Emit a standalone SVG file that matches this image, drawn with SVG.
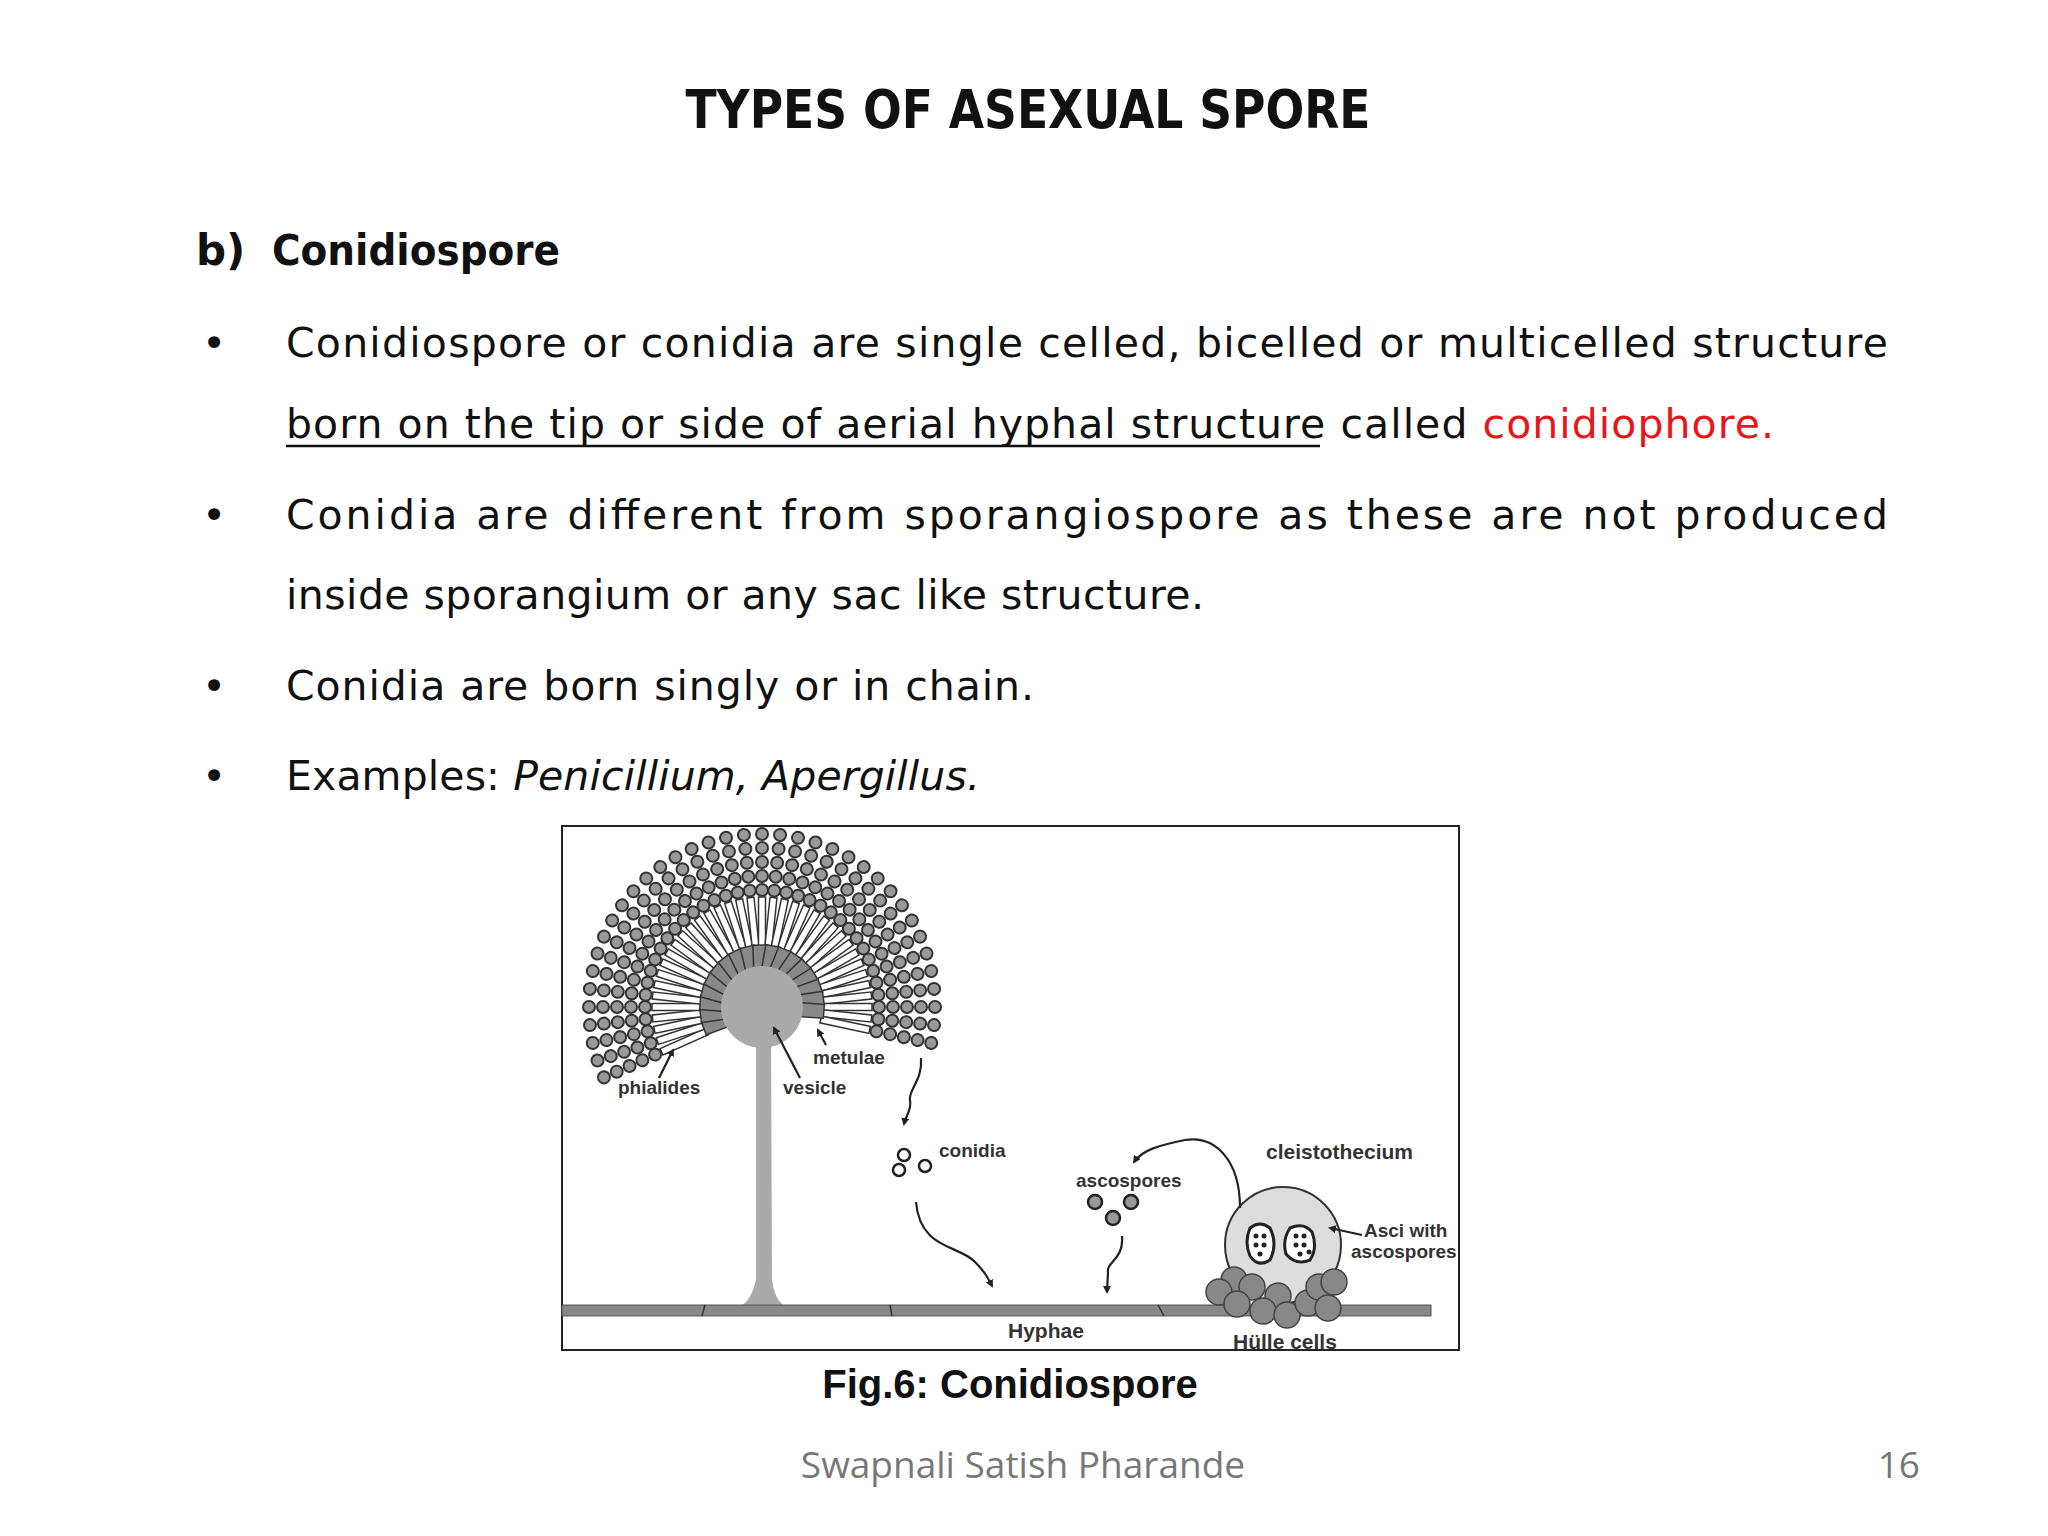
<svg xmlns="http://www.w3.org/2000/svg" xmlns:xlink="http://www.w3.org/1999/xlink" width="2048" height="1536" viewBox="0 0 2048 1536">
<style>
.b{font-family:"DejaVu Sans",sans-serif;font-size:41px;fill:#111}
.h{font-family:"DejaVu Sans",sans-serif;font-weight:bold;fill:#111}
.l{font-family:"Liberation Sans",Arial,sans-serif;font-weight:bold;font-size:19px;fill:#333}
.ln{fill:none;stroke:#222;stroke-width:2.2}
</style>
<defs>
<marker id="ah" markerWidth="8" markerHeight="8" refX="6" refY="4" orient="auto" markerUnits="userSpaceOnUse"><path d="M0,0 L8,4 L0,8 z" fill="#222"/></marker>
<g id="arm">
<rect x="-3.5" y="-110" width="7" height="50" fill="#fff" stroke="#333" stroke-width="1.5"/>
<g fill="#999" stroke="#333" stroke-width="2">
<circle cx="0" cy="-117" r="6"/><circle cx="0" cy="-131" r="6"/><circle cx="0" cy="-145" r="6"/><circle cx="0" cy="-159" r="6"/><circle cx="0" cy="-173" r="6"/>
</g>
</g>
<rect id="met" x="-7" y="-62" width="14" height="24" fill="#888" stroke="#333" stroke-width="1.5"/>
</defs>
<rect width="2048" height="1536" fill="#fff"/>
<text class="h" x="1028" y="128" font-size="54" text-anchor="middle" textLength="685" lengthAdjust="spacingAndGlyphs">TYPES OF ASEXUAL SPORE</text>
<text class="h" x="196" y="265" font-size="42">b)</text>
<text class="h" x="272" y="265" font-size="42" textLength="288" lengthAdjust="spacingAndGlyphs">Conidiospore</text>
<g class="b">
<text x="202" y="357">•</text><text x="286" y="357" textLength="1602" lengthAdjust="spacing">Conidiospore or conidia are single celled, bicelled or multicelled structure</text>
<text x="286" y="438" textLength="1488" lengthAdjust="spacing">born on the tip or side of aerial hyphal structure called <tspan fill="#e8151b">conidiophore.</tspan></text>
<text x="202" y="529">•</text><text x="286" y="529" textLength="1602" lengthAdjust="spacing">Conidia are different from sporangiospore as these are not produced</text>
<text x="286" y="609" textLength="918" lengthAdjust="spacing">inside sporangium or any sac like structure.</text>
<text x="202" y="700">•</text><text x="286" y="700" textLength="748" lengthAdjust="spacing">Conidia are born singly or in chain.</text>
<text x="202" y="790">•</text><text x="286" y="790" textLength="694" lengthAdjust="spacing">Examples: <tspan font-style="italic">Penicillium, Apergillus.</tspan></text>
</g>
<line x1="286" y1="446" x2="1320" y2="446" stroke="#111" stroke-width="2.5"/>
<rect x="562" y="826" width="897" height="524" fill="#fff" stroke="#222" stroke-width="2"/>
<g id="conidiophore">
<path d="M756,1030 L756,1280 Q752,1298 742,1306 L784,1306 Q774,1298 772,1280 L771,1030 z" fill="#aaa"/>
<g transform="translate(762,1007)">
<use xlink:href="#arm" transform="rotate(-114)"/><use xlink:href="#arm" transform="rotate(-108)"/><use xlink:href="#arm" transform="rotate(-102)"/><use xlink:href="#arm" transform="rotate(-96)"/><use xlink:href="#arm" transform="rotate(-90)"/><use xlink:href="#arm" transform="rotate(-84)"/><use xlink:href="#arm" transform="rotate(-78)"/><use xlink:href="#arm" transform="rotate(-72)"/><use xlink:href="#arm" transform="rotate(-66)"/><use xlink:href="#arm" transform="rotate(-60)"/><use xlink:href="#arm" transform="rotate(-54)"/><use xlink:href="#arm" transform="rotate(-48)"/><use xlink:href="#arm" transform="rotate(-42)"/><use xlink:href="#arm" transform="rotate(-36)"/><use xlink:href="#arm" transform="rotate(-30)"/><use xlink:href="#arm" transform="rotate(-24)"/><use xlink:href="#arm" transform="rotate(-18)"/><use xlink:href="#arm" transform="rotate(-12)"/><use xlink:href="#arm" transform="rotate(-6)"/><use xlink:href="#arm"/><use xlink:href="#arm" transform="rotate(6)"/><use xlink:href="#arm" transform="rotate(12)"/><use xlink:href="#arm" transform="rotate(18)"/><use xlink:href="#arm" transform="rotate(24)"/><use xlink:href="#arm" transform="rotate(30)"/><use xlink:href="#arm" transform="rotate(36)"/><use xlink:href="#arm" transform="rotate(42)"/><use xlink:href="#arm" transform="rotate(48)"/><use xlink:href="#arm" transform="rotate(54)"/><use xlink:href="#arm" transform="rotate(60)"/><use xlink:href="#arm" transform="rotate(66)"/><use xlink:href="#arm" transform="rotate(72)"/><use xlink:href="#arm" transform="rotate(78)"/><use xlink:href="#arm" transform="rotate(84)"/><use xlink:href="#arm" transform="rotate(90)"/><use xlink:href="#arm" transform="rotate(96)"/><use xlink:href="#arm" transform="rotate(102)"/>
<use xlink:href="#met" transform="rotate(-110)"/><use xlink:href="#met" transform="rotate(-98)"/><use xlink:href="#met" transform="rotate(-86)"/><use xlink:href="#met" transform="rotate(-74)"/><use xlink:href="#met" transform="rotate(-62)"/><use xlink:href="#met" transform="rotate(-50)"/><use xlink:href="#met" transform="rotate(-38)"/><use xlink:href="#met" transform="rotate(-26)"/><use xlink:href="#met" transform="rotate(-14)"/><use xlink:href="#met" transform="rotate(-2)"/><use xlink:href="#met" transform="rotate(10)"/><use xlink:href="#met" transform="rotate(22)"/><use xlink:href="#met" transform="rotate(34)"/><use xlink:href="#met" transform="rotate(46)"/><use xlink:href="#met" transform="rotate(58)"/><use xlink:href="#met" transform="rotate(70)"/><use xlink:href="#met" transform="rotate(82)"/><use xlink:href="#met" transform="rotate(94)"/>
<circle r="41" fill="#aaa"/>
</g>
</g>
<g id="hyphae">
<rect x="562" y="1305" width="869" height="11" fill="#888" stroke="#555" stroke-width="1"/>
<path d="M705,1305 l-3,11 M890,1305 l2,11 M1158,1305 l6,11" stroke="#333" stroke-width="1.5"/>
</g>
<g id="conidia" fill="#fff" stroke="#222" stroke-width="2.5">
<circle cx="904" cy="1155" r="6"/><circle cx="899" cy="1170" r="6"/><circle cx="925" cy="1166" r="6"/>
</g>
<g id="ascospores" fill="#999" stroke="#222" stroke-width="2.5">
<circle cx="1095" cy="1202" r="7"/><circle cx="1131" cy="1202" r="7"/><circle cx="1113" cy="1218" r="7"/>
</g>
<g id="cleistothecium">
<circle cx="1283" cy="1245" r="58" fill="#ddd" stroke="#333" stroke-width="2"/>
<path d="M1250,1228 q10,-8 20,0 q8,16 0,32 q-12,8 -20,-4 q-6,-14 0,-28z M1290,1228 q14,-6 22,4 q6,16 -2,28 q-14,6 -24,-6 q-4,-14 4,-26z" fill="#fff" stroke="#222" stroke-width="3"/>
<g fill="#222"><circle cx="1256" cy="1236" r="2.5"/><circle cx="1264" cy="1236" r="2.5"/><circle cx="1256" cy="1245" r="2.5"/><circle cx="1264" cy="1245" r="2.5"/><circle cx="1260" cy="1254" r="2.5"/><circle cx="1296" cy="1236" r="2.5"/><circle cx="1304" cy="1236" r="2.5"/><circle cx="1296" cy="1245" r="2.5"/><circle cx="1304" cy="1245" r="2.5"/><circle cx="1300" cy="1254" r="2.5"/><circle cx="1309" cy="1252" r="2.5"/></g>
<g fill="#888" stroke="#444" stroke-width="1.5">
<circle cx="1234" cy="1280" r="13"/><circle cx="1219" cy="1292" r="13"/><circle cx="1252" cy="1287" r="13"/><circle cx="1237" cy="1304" r="13"/><circle cx="1278" cy="1296" r="13"/><circle cx="1263" cy="1311" r="13"/><circle cx="1287" cy="1315" r="13"/><circle cx="1308" cy="1303" r="13"/><circle cx="1319" cy="1287" r="13"/><circle cx="1334" cy="1282" r="13"/><circle cx="1328" cy="1308" r="13"/>
</g>
</g>
<g id="connectors" class="ln" marker-end="url(#ah)">
<path d="M659,1078 L673,1050"/>
<path d="M800,1078 L774,1028"/>
<path d="M826,1045 L818,1030"/>
<path d="M921,1058 C923,1080 908,1090 910,1100 C912,1110 906,1115 904,1124"/>
<path d="M916,1202 C920,1250 960,1245 975,1262 C985,1272 988,1278 992,1286"/>
<path d="M1122,1236 C1124,1258 1108,1262 1108,1270 C1108,1280 1107,1286 1107,1292"/>
<path d="M1240,1208 C1240,1160 1215,1135 1185,1140 C1160,1145 1142,1150 1134,1162"/>
<path d="M1362,1235 L1330,1228"/>
</g>
<g class="l">
<text x="618" y="1094">phialides</text>
<text x="783" y="1094">vesicle</text>
<text x="813" y="1064">metulae</text>
<text x="939" y="1157">conidia</text>
<text x="1076" y="1187">ascospores</text>
<text x="1266" y="1159" font-size="21">cleistothecium</text>
<text x="1364" y="1237">Asci with</text>
<text x="1351" y="1258">ascospores</text>
<text x="1008" y="1338" font-size="21">Hyphae</text>
<text x="1233" y="1349" font-size="21">Hülle cells</text>
</g>
<text x="1010" y="1398" text-anchor="middle" font-family="'Liberation Sans',Arial,sans-serif" font-weight="bold" font-size="40" fill="#111">Fig.6: Conidiospore</text>
<text x="1023" y="1478" text-anchor="middle" font-family="'Open Sans',sans-serif" font-size="37" fill="#777">Swapnali Satish Pharande</text>
<text x="1920" y="1478" text-anchor="end" font-family="'Open Sans',sans-serif" font-size="37" fill="#777">16</text>
</svg>
